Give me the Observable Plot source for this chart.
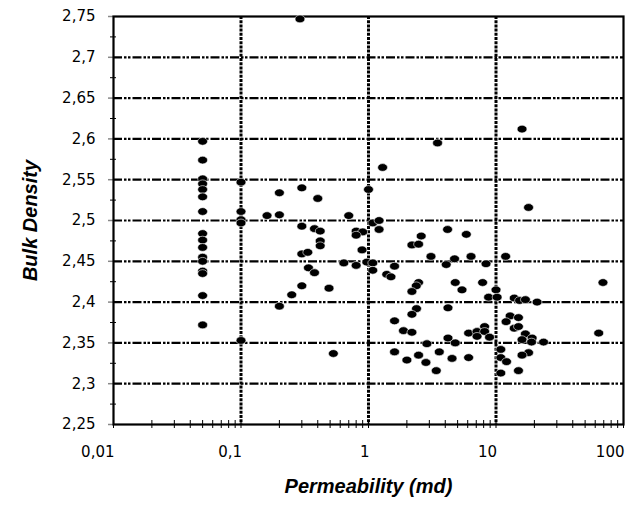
<!DOCTYPE html>
<html><head><meta charset="utf-8">
<script src="https://cdn.jsdelivr.net/npm/d3@7"></script>
<script src="https://cdn.jsdelivr.net/npm/@observablehq/plot@0.6"></script>
<style>body{margin:0;background:#fff}</style>
</head><body><div id="chart"></div>
<script>
// Permeability (md) values
const permeability = [
  0.05,0.05,0.05,0.05,0.05,0.05,0.05,0.05,0.05,0.05,0.05,0.05,0.05,0.05,0.05,0.05,
  0.1,0.1,0.1,0.1,0.1,
  0.16,0.2,0.2,0.29,0.3,0.40,1.0,0.70,1.08,0.3,0.377,0.418,0.80,0.90,0.80,0.418,0.418,0.89,0.30,0.334,
  0.64,0.80,0.97,1.08,1.08,0.338,0.377,0.30,0.49,0.25,0.20,0.53,
  3.48,1.29,1.21,1.21,4.17,5.85,2.59,2.19,2.47,3.09,4.73,6.37,4.07,8.35,1.60,
  1.39,1.50,2.47,2.37,2.19,4.79,5.41,7.85,10.0,8.75,10.2,2.38,2.19,4.2,1.60,1.88,2.19,2.87,4.2,4.79,
  6.1,7.1,7.1,8.14,8.14,8.9,1.60,2.0,2.47,2.82,3.59,4.52,6.1,3.40,
  16.0,18.0,11.9,69,13.9,15.3,17.0,21.0,12.9,15.0,12.0,13.9,15.0,17.0,19.2,16.0,19.0,23.6,63.9,
  10.9,10.9,12.1,18.0,16.0,10.9,15.0
];
// Bulk density values
const bulkDensity = [
  2.597,2.574,2.551,2.545,2.538,2.529,2.511,2.484,2.476,2.467,2.455,2.450,2.438,2.435,2.408,2.372,
  2.547,2.511,2.501,2.497,2.353,
  2.506,2.507,2.534,2.747,2.540,2.527,2.538,2.506,2.497,2.493,2.490,2.487,2.487,2.486,2.482,2.475,2.469,2.464,2.459,2.461,
  2.448,2.445,2.449,2.448,2.439,2.442,2.436,2.420,2.417,2.409,2.395,2.337,
  2.595,2.565,2.500,2.489,2.489,2.483,2.481,2.470,2.471,2.456,2.453,2.456,2.446,2.447,2.444,
  2.434,2.431,2.424,2.420,2.413,2.424,2.415,2.424,2.415,2.406,2.406,2.392,2.385,2.393,2.377,2.365,2.363,2.349,2.356,2.350,
  2.362,2.364,2.358,2.370,2.364,2.357,2.339,2.329,2.335,2.326,2.339,2.331,2.332,2.316,
  2.612,2.516,2.456,2.424,2.405,2.402,2.403,2.400,2.383,2.381,2.376,2.368,2.370,2.361,2.356,2.354,2.351,2.351,2.362,
  2.342,2.332,2.327,2.338,2.335,2.313,2.316
];
const xTicks = [0.01, 0.1, 1, 10, 100];
const xTickLabels = ["0,01", "0,1", "1", "10", "100"];
const yTicks = [2.25, 2.3, 2.35, 2.4, 2.45, 2.5, 2.55, 2.6, 2.65, 2.7, 2.75];
const yTickLabels = ["2,25", "2,3", "2,35", "2,4", "2,45", "2,5", "2,55", "2,6", "2,65", "2,7", "2,75"];
const xTitle = "Permeability (md)";
const yTitle = "Bulk Density";

const data = permeability.map((x, i) => ({x, y: bulkDensity[i]}));
const xMinor = xTicks.slice(0, -1).flatMap(d => d3.range(1, 10).map(k => k * d)).concat([xTicks[xTicks.length - 1]]);
const yMinor = yTicks.slice(0, -1).map((d, i) => (d + yTicks[i + 1]) / 2);

const ellipse = {
  draw(ctx, size) {
    const r = Math.sqrt(size / Math.PI), rx = r * 1.12, ry = r * 0.88, k = 0.5523;
    ctx.moveTo(rx, 0);
    ctx.bezierCurveTo(rx, ry * k, rx * k, ry, 0, ry);
    ctx.bezierCurveTo(-rx * k, ry, -rx, ry * k, -rx, 0);
    ctx.bezierCurveTo(-rx, -ry * k, -rx * k, -ry, 0, -ry);
    ctx.bezierCurveTo(rx * k, -ry, rx, -ry * k, rx, 0);
    ctx.closePath();
  }
};

const titleFont = {fontSize: 20, fontWeight: "bold", fontStyle: "italic", fontFamily: "Liberation Sans, Arial, sans-serif", fill: "black", textAnchor: "middle"};

const chart = Plot.plot({
  width: 642,
  height: 512,
  marginLeft: 113,
  marginRight: 19,
  marginTop: 16,
  marginBottom: 88,
  style: {fontFamily: "DejaVu Sans, sans-serif", fontSize: "15px", color: "black", background: "white"},
  x: {type: "log", domain: [0.01, 100], label: null, axis: null},
  y: {domain: [2.25, 2.75], label: null, axis: null},
  marks: [
    Plot.gridY(yTicks.slice(1, -1), {stroke: "black", strokeOpacity: 1, strokeWidth: 2.2, strokeDasharray: "9,2,2.5,1.5,2.5,2"}),
    Plot.gridX(xTicks.slice(1, -1), {stroke: "black", strokeOpacity: 1, strokeWidth: 3, strokeDasharray: "3,1.2"}),
    Plot.axisX(xMinor, {tickSize: 4, text: null, label: null, strokeWidth: 1}),
    Plot.axisX(xMinor, {tickSize: -4, text: null, label: null, strokeWidth: 1}),
    Plot.axisX(xTicks, {tickSize: 0, tickPadding: 22, label: null, textAnchor: "end", dx: 1,
      tickFormat: d => xTickLabels[xTicks.indexOf(d)], fontSize: 15}),
    Plot.axisY(yTicks, {tickSize: 5, text: null, label: null, stroke: "#888", strokeWidth: 1.5}),
    Plot.axisY(yMinor, {tickSize: 3, text: null, label: null, strokeWidth: 1}),
    Plot.axisY(yMinor, {tickSize: -3, text: null, label: null, strokeWidth: 1}),
    Plot.axisY(yTicks, {tickSize: 0, tickPadding: 18, label: null,
      tickFormat: d => yTickLabels[yTicks.indexOf(d)], fontSize: 15}),
    Plot.frame({stroke: "black", strokeWidth: 2.2}),
    Plot.dot(data, {x: "x", y: "y", r: 4.4, symbol: ellipse, fill: "black", stroke: "white", strokeWidth: 0.6}),
    Plot.text([xTitle], {text: d => d, frameAnchor: "bottom", dy: 68, ...titleFont}),
    Plot.text([yTitle], {text: d => d, frameAnchor: "left", dx: -83, rotate: -90, ...titleFont})
  ]
});
document.getElementById("chart").appendChild(chart);
</script>
</body></html>
